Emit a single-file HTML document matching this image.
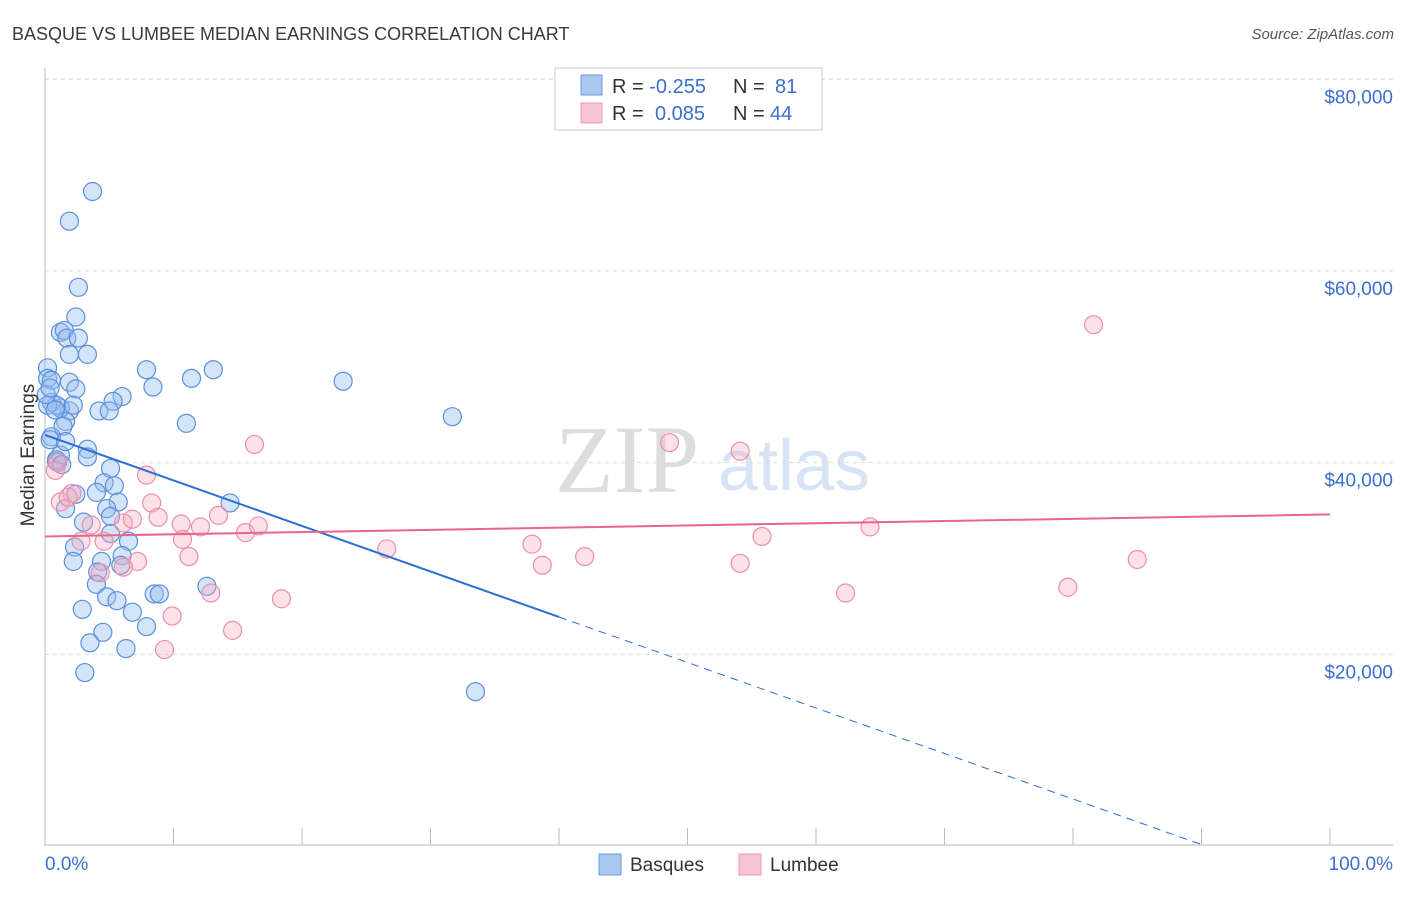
<!DOCTYPE html>
<html><head><meta charset="utf-8"><style>
body{margin:0;background:#fff;font-family:"Liberation Sans",sans-serif}
</style></head><body>
<svg id="chart" width="1406" height="892" xmlns="http://www.w3.org/2000/svg" style="font-family:'Liberation Sans',sans-serif">
<text x="12" y="40" font-size="18" fill="#3a3a3a">BASQUE VS LUMBEE MEDIAN EARNINGS CORRELATION CHART</text>
<text x="1394" y="39" font-size="15" font-style="italic" fill="#555" text-anchor="end">Source: ZipAtlas.com</text>
<text x="555" y="492" font-size="96" font-family="'Liberation Serif',serif" fill="#ddd">ZIP</text>
<text x="718" y="490" font-size="72" fill="#d6e4f6">atlas</text>
<g id="grid"></g><g id="axes"></g><g id="pts"></g><g id="trend"></g>
<text transform="translate(34,455) rotate(-90)" font-size="19" fill="#333" text-anchor="middle">Median Earnings</text>
<text x="45" y="870" font-size="19" fill="#3a6fcf">0.0%</text>
<text x="1393" y="870" font-size="19" fill="#3a6fcf" text-anchor="end">100.0%</text>
<g>
<rect x="555" y="68" width="267" height="62" fill="#fff" stroke="#ccc"/>
<rect x="581" y="75" width="21" height="20" fill="#a9c8f0" stroke="#6a9ae0"/>
<rect x="581" y="103" width="21" height="20" fill="#f9c4d2" stroke="#ec99b2"/>
<text x="612" y="93" font-size="20" fill="#333">R = <tspan fill="#3a6fcf">-0.255</tspan><tspan x="733">N = </tspan><tspan fill="#3a6fcf" x="775">81</tspan></text>
<text x="612" y="120" font-size="20" fill="#333">R = <tspan fill="#3a6fcf" x="655">0.085</tspan><tspan x="733">N = </tspan><tspan fill="#3a6fcf" x="770">44</tspan></text>
</g>
<g>
<rect x="599" y="854" width="22" height="21" fill="#a9c8f0" stroke="#6a9ae0"/>
<text x="630" y="871" font-size="19" fill="#333">Basques</text>
<rect x="739" y="854" width="22" height="21" fill="#f9c4d2" stroke="#ec99b2"/>
<text x="770" y="871" font-size="19" fill="#333">Lumbee</text>
</g>
</svg>
<script>
const yTicks=[20,40,60,80];
const yTickLabels=["$20,000","$40,000","$60,000","$80,000"];
const xTicks=[0,10,20,30,40,50,60,70,80,90,100];
const basqueX=[3.7,1.9,2.6,2.4,1.2,1.5,1.7,2.6,3.3,1.9,0.2,7.9,13.1,11.4,23.2,8.4,0.2,0.5,1.9,2.4,6.0,5.3,4.2,5.0,1.9,1.2,0.5,0.9,0.2,2.2,31.7,11.0,1.6,1.4,0.5,3.3,1.2,3.3,0.9,5.1,4.6,5.4,4.0,2.4,14.4,5.7,1.6,4.8,5.1,3.0,5.1,6.5,2.3,6.0,4.4,2.2,5.9,4.1,4.0,12.6,8.5,8.9,4.8,5.6,2.9,6.8,7.9,4.5,3.5,6.3,3.1,33.5,0.9,1.3,0.8,0.1,0.4,0.4,1.6];
const basqueY=[68.3,65.2,58.3,55.2,53.6,53.8,53.0,53.0,51.3,51.3,49.9,49.7,49.7,48.8,48.5,47.9,48.8,48.6,48.4,47.7,46.9,46.4,45.4,45.4,45.4,45.7,46.3,46.0,46.0,46.0,44.8,44.1,44.3,43.8,42.7,41.4,40.8,40.6,40.1,39.4,37.9,37.6,36.9,36.7,35.8,35.9,35.2,35.2,34.4,33.8,32.6,31.8,31.2,30.3,29.7,29.7,29.3,28.6,27.3,27.1,26.3,26.3,26.0,25.6,24.7,24.4,22.9,22.3,21.2,20.6,18.1,16.1,40.3,39.8,45.5,47.1,42.4,47.8,42.2];
const lumbeeX=[81.6,16.3,48.6,54.1,7.9,1.0,2.1,1.2,8.3,3.6,8.8,10.6,13.5,15.6,12.1,6.1,6.8,16.6,64.2,55.8,2.8,4.6,10.7,37.9,26.6,42.0,11.2,7.2,6.1,4.3,38.7,54.1,85.0,79.6,12.9,62.3,18.4,9.9,14.6,9.3,1.8,0.8];
const lumbeeY=[54.4,41.9,42.1,41.2,38.7,40.0,36.8,35.9,35.8,33.5,34.3,33.6,34.5,32.7,33.3,33.7,34.1,33.4,33.3,32.3,31.8,31.8,32.0,31.5,31.0,30.2,30.2,29.7,29.1,28.5,29.3,29.5,29.9,27.0,26.4,26.4,25.8,24.0,22.5,20.5,36.4,39.2];
const basqueTrend=[42.9,-0.475];
const lumbeeTrend=[32.3,0.023];
const NS="http://www.w3.org/2000/svg";
const X=v=>45+v*12.85, Y=v=>846-v*9.583;
function mk(t,a,p){const e=document.createElementNS(NS,t);for(const k in a)e.setAttribute(k,a[k]);p.appendChild(e);return e;}
const grid=document.getElementById('grid'),axes=document.getElementById('axes'),pts=document.getElementById('pts'),tr=document.getElementById('trend');
yTicks.forEach((t,i)=>{
 const l=mk('line',{x1:45,x2:1393,y1:Y(t),y2:Y(t),stroke:'#ddd','stroke-dasharray':'4,4'},grid);
 
 
 const tx=mk('text',{x:1393,y:Y(t)+24,'font-size':19,fill:'#3a6fcf','text-anchor':'end'},grid);
 tx.textContent=yTickLabels[i];
 
 
});
mk('line',{x1:1393,x2:45,y1:79,y2:79,stroke:'#ddd','stroke-dasharray':'4,4'},grid);
mk('line',{x1:45,x2:45,y1:68,y2:846,stroke:'#bbb'},axes);
mk('line',{x1:45,x2:1393,y1:845,y2:845,stroke:'#bbb'},axes);
xTicks.forEach(t=>{const l=mk('line',{x1:X(t),x2:X(t),y1:828,y2:845,stroke:'#bbb'},axes);
 
 });
basqueX.forEach((x,i)=>{const c=mk('circle',{cx:X(x),cy:Y(basqueY[i]),r:9,fill:'rgba(150,190,240,0.4)',stroke:'#5b8fdc','stroke-width':1.2},pts);
 
 });
lumbeeX.forEach((x,i)=>{const c=mk('circle',{cx:X(x),cy:Y(lumbeeY[i]),r:9,fill:'rgba(245,170,190,0.35)',stroke:'#eb8fab','stroke-width':1.2},pts);
 
 });
const bf=x=>basqueTrend[0]+basqueTrend[1]*x, lf=x=>lumbeeTrend[0]+lumbeeTrend[1]*x;
const b1=mk('line',{x1:X(0),y1:Y(bf(0)),x2:X(40),y2:Y(bf(40)),stroke:'#2a6fd6','stroke-width':2},tr);


const xEnd=-basqueTrend[0]/basqueTrend[1];
const b2=mk('line',{x1:X(40),y1:Y(bf(40)),x2:X(xEnd),y2:Y(0),stroke:'#2a6fd6','stroke-width':1,'stroke-dasharray':'8,6'},tr);


const l1=mk('line',{x1:X(0),y1:Y(lf(0)),x2:X(100),y2:Y(lf(100)),stroke:'#e8668e','stroke-width':2},tr);


</script>
</body></html>
